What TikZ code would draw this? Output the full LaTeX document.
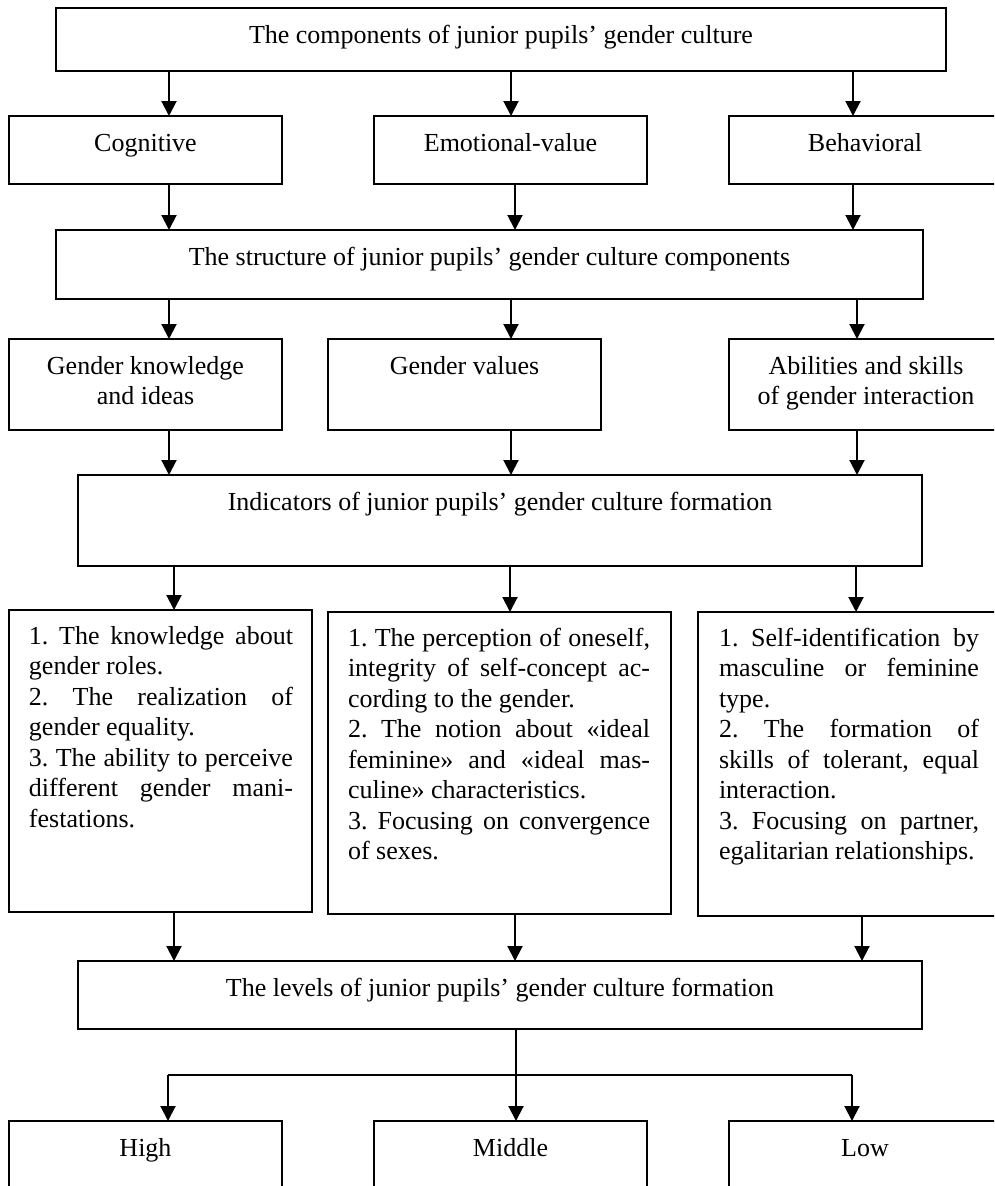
\documentclass[tikz,border=0pt]{standalone}
\usepackage{fontspec}
\setmainfont{Liberation Serif}
\usetikzlibrary{arrows.meta}
\frenchspacing
\newlength\tw
\newcommand\bxt[3]{\parbox[t][#2][t]{#1}{\centering\rule{0pt}{35pt}#3\par}}
\newcommand\lst[5]{\parbox[t][#2][t]{#1}{\frenchspacing\setlength\tw{#4}\leftskip=#3\relax\parindent=0pt\rule{0pt}{34pt}#5\par}}
\newcommand\jl[1]{\makebox[\tw][s]{#1}\\}
\newcommand\el[1]{#1\\}
\begin{document}
\begin{tikzpicture}[x=1pt,y=-1pt,
  box/.style={draw, line width=1.3pt, inner sep=0pt, outer sep=0pt, anchor=north west, font=\fontsize{26}{30.5}\selectfont},
  arr/.style={line width=2pt, -{Triangle[width=15pt,length=15pt]}},
  link/.style={line width=1.5pt}]
\useasboundingbox (0,0) rectangle (994,1186);
\clip (0,0) rectangle (994,1186);
% row 1
\node[box] (top) at (56,8) {\bxt{890pt}{63pt}{The components of junior pupils’ gender culture}};
% row 2
\node[box] (cog) at (9,116) {\bxt{273pt}{68pt}{Cognitive}};
\node[box] (emo) at (374,116) {\bxt{273pt}{68pt}{Emotional-value}};
\node[box] (beh) at (729,116) {\bxt{272pt}{68pt}{Behavioral}};
% row 3
\node[box] (str) at (56,230) {\bxt{867pt}{69pt}{The structure of junior pupils’ gender culture components}};
% row 4
\node[box] (gk) at (9,339) {\bxt{273pt}{91pt}{Gender knowledge\\and ideas}};
\node[box] (gv) at (328,339) {\bxt{273pt}{91pt}{Gender values}};
\node[box] (ab) at (729,339) {\bxt{274pt}{91pt}{Abilities and skills\\of gender interaction}};
% row 5
\node[box] (ind) at (78,475) {\bxt{844pt}{91pt}{Indicators of junior pupils’ gender culture formation}};
% row 6
\node[box] (t1) at (9,610) {\lst{303pt}{302pt}{20pt}{264pt}{%
\jl{1. The knowledge about}
\el{gender roles.}
\jl{2. The realization of}
\el{gender equality.}
\jl{3. The ability to perceive}
\jl{different gender mani-}
festations.}};
\node[box] (t2) at (328,612) {\lst{343pt}{302pt}{20pt}{302pt}{%
\jl{1. The perception of oneself,}
\jl{integrity of self-concept ac-}
\el{cording to the gender.}
\jl{2. The notion about «ideal}
\jl{feminine» and «ideal mas-}
\el{culine» characteristics.}
\jl{3. Focusing on convergence}
of sexes.}};
\node[box] (t3) at (698,612) {\lst{303pt}{304pt}{21pt}{260pt}{%
\jl{1. Self-identification by}
\jl{masculine or feminine}
\el{type.}
\jl{2. The formation of}
\jl{skills of tolerant, equal}
\el{interaction.}
\jl{3. Focusing on partner,}
egalitarian relationships.}};
% row 7
\node[box] (lev) at (78,961) {\bxt{844pt}{68pt}{The levels of junior pupils’ gender culture formation}};
% row 8
\node[box] (high) at (9,1121) {\bxt{273pt}{100pt}{High}};
\node[box] (mid) at (374,1121) {\bxt{273pt}{100pt}{Middle}};
\node[box] (low) at (729,1121) {\bxt{272pt}{100pt}{Low}};
% arrows
\draw[arr] (top.south -| 169,0) -- (cog.north -| 169,0);
\draw[arr] (top.south -| 511,0) -- (emo.north -| 511,0);
\draw[arr] (top.south -| 853,0) -- (beh.north -| 853,0);
\draw[arr] (cog.south -| 169,0) -- (str.north -| 169,0);
\draw[arr] (emo.south -| 515,0) -- (str.north -| 515,0);
\draw[arr] (beh.south -| 853,0) -- (str.north -| 853,0);
\draw[arr] (str.south -| 169,0) -- (gk.north -| 169,0);
\draw[arr] (str.south -| 511,0) -- (gv.north -| 511,0);
\draw[arr] (str.south -| 857,0) -- (ab.north -| 857,0);
\draw[arr] (gk.south -| 169,0) -- (ind.north -| 169,0);
\draw[arr] (gv.south -| 511,0) -- (ind.north -| 511,0);
\draw[arr] (ab.south -| 857,0) -- (ind.north -| 857,0);
\draw[arr] (ind.south -| 174,0) -- (t1.north -| 174,0);
\draw[arr] (ind.south -| 510,0) -- (t2.north -| 510,0);
\draw[arr] (ind.south -| 856,0) -- (t3.north -| 856,0);
\draw[arr] (t1.south -| 174,0) -- (lev.north -| 174,0);
\draw[arr] (t2.south -| 515,0) -- (lev.north -| 515,0);
\draw[arr] (t3.south -| 862,0) -- (lev.north -| 862,0);
% fork
\coordinate (fork) at (516,1075);
\coordinate (fl) at (168,1075);
\coordinate (fr) at (852,1075);
\draw[link] (lev.south -| fork) -- (fork);
\draw[link] (fl) -- (fr);
\draw[arr] (fl) -- (high.north -| fl);
\draw[arr] (fork) -- (mid.north -| fork);
\draw[arr] (fr) -- (low.north -| fr);
\end{tikzpicture}
\end{document}
